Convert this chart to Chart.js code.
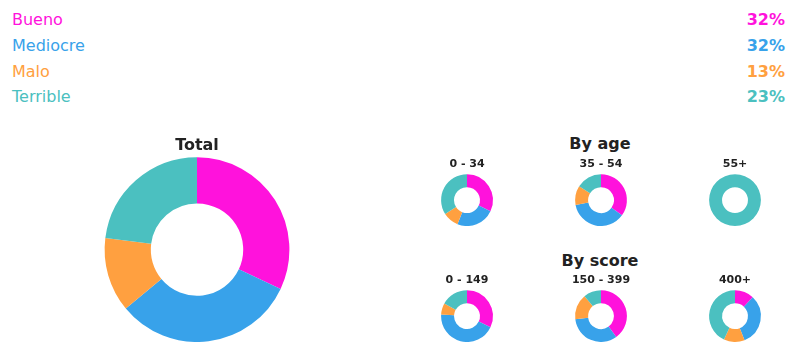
<!DOCTYPE html>
<html lang="es">
<head>
  <meta charset="UTF-8">
  <title>Resultados</title>
  <script src="https://cdn.jsdelivr.net/npm/chart.js"></script>
  <style>
    body {
      margin: 0;
      width: 800px;
      height: 354px;
      position: relative;
      background: #fff;
      font-family: "DejaVu Sans", sans-serif;
      overflow: hidden;
    }
    .row {
      position: absolute;
      left: 12px;
      width: 773px;
      height: 20px;
      line-height: 20px;
      font-size: 16px;
    }
    .row .pct {
      position: absolute;
      right: 0;
      top: 0;
      font-weight: bold;
    }
    .group-title {
      position: absolute;
      width: 200px;
      margin-left: -100px;
      text-align: center;
      font-size: 16px;
      font-weight: bold;
      color: #222;
      line-height: 20px;
    }
    .box {
      position: absolute;
    }
  </style>
</head>
<body>
  <div id="legend"></div>
  <div class="group-title" style="left:600px; top:134px;">By age</div>
  <div class="group-title" style="left:600px; top:251px;">By score</div>

  <div class="box" style="left:97px; top:134px; width:200px; height:208px;"><canvas id="total"></canvas></div>
  <div id="small"></div>

  <script>
    const categories = ["Bueno", "Mediocre", "Malo", "Terrible"];
    const colors = ["#ff12dc", "#38a2ea", "#ffa040", "#4bc0c0"];

    const totalValues = [32, 32, 13, 23];

    const ageGroups = ["0 - 34", "35 - 54", "55+"];
    const ageValues = [
      [32, 24, 10, 34],
      [35, 37, 12, 16],
      [0, 0, 0, 100]
    ];

    const scoreGroups = ["0 - 149", "150 - 399", "400+"];
    const scoreValues = [
      [32, 44, 7, 17],
      [40, 33, 16, 11],
      [12, 32, 13, 43]
    ];

    // legend rows on top
    const legend = document.getElementById("legend");
    const rowTops = [10, 36, 62, 87];
    categories.forEach((c, i) => {
      const row = document.createElement("div");
      row.className = "row";
      row.style.top = rowTops[i] + "px";
      row.style.color = colors[i];
      row.innerHTML = c + '<span class="pct">' + totalValues[i] + "%</span>";
      legend.appendChild(row);
    });

    function donut(canvas, title, values, titleSize, padTop, padBottom) {
      return new Chart(canvas, {
        type: "doughnut",
        data: {
          labels: categories,
          datasets: [{
            data: values,
            backgroundColor: colors,
            borderWidth: 0
          }]
        },
        options: {
          responsive: true,
          maintainAspectRatio: false,
          animation: false,
          cutout: "50%",
          layout: { padding: 0 },
          plugins: {
            legend: { display: false },
            tooltip: { enabled: false },
            title: {
              display: true,
              text: title,
              color: "#222",
              font: { family: "DejaVu Sans", size: titleSize, weight: "bold" },
              padding: { top: padTop, bottom: padBottom }
            }
          }
        }
      });
    }

    donut(document.getElementById("total"), "Total", totalValues, 16, 2, 2);

    // small doughnuts
    const small = document.getElementById("small");
    const centersX = [467, 601, 735];
    function addRow(groups, values, top) {
      groups.forEach((g, i) => {
        const box = document.createElement("div");
        box.className = "box";
        box.style.left = (centersX[i] - 35) + "px";
        box.style.top = top + "px";
        box.style.width = "70px";
        box.style.height = "68px";
        const cv = document.createElement("canvas");
        box.appendChild(cv);
        small.appendChild(box);
        donut(cv, g, values[i], 11, 0, 3);
      });
    }
    addRow(ageGroups, ageValues, 158);
    addRow(scoreGroups, scoreValues, 274);
  </script>
</body>
</html>
